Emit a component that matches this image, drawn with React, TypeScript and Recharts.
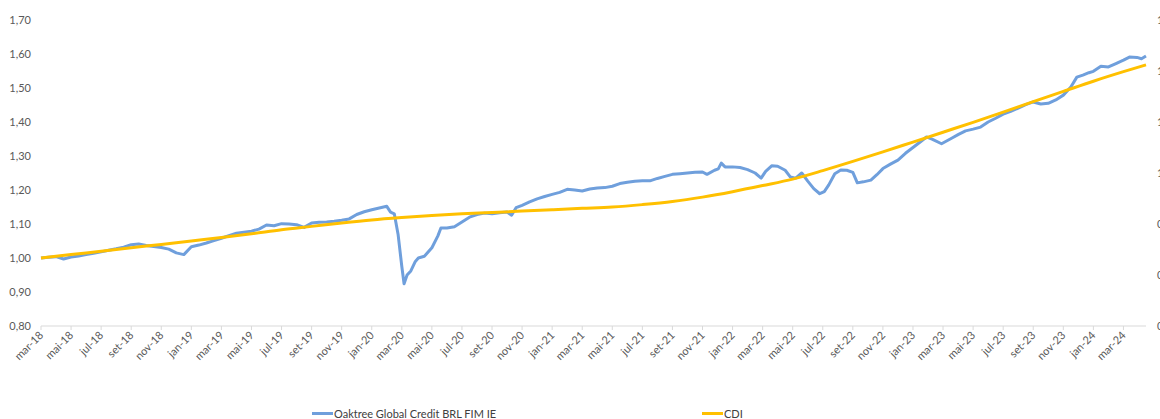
import React from 'react';
import { LineChart, Line, XAxis, YAxis } from 'recharts';

// month offsets from mar-18 (0 = mar-18), one label every two months
const MONTH_LABELS = [
  'mar-18', 'mai-18', 'jul-18', 'set-18', 'nov-18',
  'jan-19', 'mar-19', 'mai-19', 'jul-19', 'set-19', 'nov-19',
  'jan-20', 'mar-20', 'mai-20', 'jul-20', 'set-20', 'nov-20',
  'jan-21', 'mar-21', 'mai-21', 'jul-21', 'set-21', 'nov-21',
  'jan-22', 'mar-22', 'mai-22', 'jul-22', 'set-22', 'nov-22',
  'jan-23', 'mar-23', 'mai-23', 'jul-23', 'set-23', 'nov-23',
  'jan-24', 'mar-24',
];

const LEFT_TICKS = [0.8, 0.9, 1.0, 1.1, 1.2, 1.3, 1.4, 1.5, 1.6, 1.7];
const RIGHT_TICKS = [0.5, 0.7, 0.9, 1.1, 1.3, 1.5, 1.7];

// [month offset, value]
const FUND: [number, number][] = [
  [0, 1.0], [0.5, 1.002], [1, 1.004], [1.5, 0.997], [2, 1.003], [2.5, 1.006],
  [3, 1.01], [3.5, 1.014], [4, 1.018], [4.5, 1.023], [5, 1.027], [5.5, 1.032],
  [6, 1.039], [6.5, 1.041], [7, 1.037], [7.5, 1.034], [8, 1.031], [8.5, 1.026],
  [9, 1.015], [9.5, 1.01], [10, 1.033], [10.5, 1.038], [11, 1.044], [11.5, 1.051],
  [12, 1.058], [12.5, 1.066], [13, 1.073], [13.5, 1.076], [14, 1.079], [14.5, 1.085],
  [15, 1.097], [15.5, 1.095], [16, 1.101], [16.5, 1.1], [17, 1.098], [17.5, 1.09],
  [18, 1.103], [18.5, 1.105], [19, 1.106], [19.5, 1.108], [20, 1.111], [20.5, 1.115],
  [21, 1.128], [21.5, 1.136], [22, 1.142], [22.5, 1.147], [23, 1.152], [23.25, 1.135],
  [23.5, 1.13], [23.75, 1.07], [24, 0.975], [24.15, 0.924], [24.35, 0.95], [24.6, 0.962],
  [24.9, 0.99], [25.1, 1.0], [25.5, 1.005], [26, 1.03], [26.4, 1.065], [26.6, 1.088],
  [27, 1.088], [27.5, 1.092], [28, 1.106], [28.5, 1.12], [29, 1.128], [29.5, 1.132],
  [30, 1.13], [30.5, 1.133], [31, 1.135], [31.3, 1.126], [31.6, 1.148], [32, 1.155],
  [32.5, 1.165], [33, 1.174], [33.5, 1.181], [34, 1.187], [34.5, 1.193], [35, 1.202],
  [35.5, 1.2], [36, 1.197], [36.5, 1.203], [37, 1.206], [37.5, 1.207], [38, 1.211],
  [38.5, 1.219], [39, 1.223], [39.5, 1.226], [40, 1.227], [40.5, 1.227], [41, 1.234],
  [41.5, 1.24], [42, 1.246], [42.5, 1.248], [43, 1.25], [43.5, 1.252], [44, 1.253],
  [44.3, 1.246], [44.8, 1.258], [45.05, 1.262], [45.25, 1.279], [45.5, 1.268], [46, 1.268],
  [46.5, 1.266], [47, 1.26], [47.5, 1.25], [47.9, 1.235], [48.2, 1.255], [48.6, 1.271],
  [49, 1.27], [49.5, 1.258], [49.85, 1.238], [50.2, 1.235], [50.6, 1.25], [51, 1.226],
  [51.4, 1.204], [51.8, 1.189], [52.1, 1.195], [52.4, 1.215], [52.8, 1.248], [53.2, 1.259],
  [53.6, 1.258], [54, 1.252], [54.3, 1.221], [54.7, 1.224], [55.2, 1.229], [55.6, 1.245],
  [56, 1.263], [56.5, 1.276], [57, 1.288], [57.5, 1.308], [58, 1.325], [58.5, 1.342],
  [58.9, 1.356], [59.3, 1.349], [59.9, 1.336], [60.6, 1.353], [61, 1.363], [61.5, 1.374],
  [62, 1.379], [62.5, 1.385], [63, 1.4], [63.5, 1.411], [64, 1.423], [64.5, 1.431],
  [65, 1.441], [65.5, 1.451], [66, 1.459], [66.5, 1.453], [67, 1.455], [67.5, 1.465],
  [68, 1.479], [68.5, 1.503], [68.9, 1.532], [69.3, 1.538], [69.7, 1.545], [70, 1.549],
  [70.5, 1.564], [71, 1.562], [71.5, 1.572], [72, 1.582], [72.4, 1.591], [72.9, 1.59],
  [73.2, 1.586], [73.5, 1.594],
];

const CDI: [number, number][] = [
  [0, 1.0], [2, 1.01], [4, 1.02], [6, 1.03], [8, 1.04], [10, 1.05], [12, 1.06],
  [14, 1.071], [16, 1.083], [18, 1.093], [20, 1.103], [22, 1.112], [24, 1.119],
  [26, 1.125], [28, 1.13], [30, 1.134], [32, 1.138], [34, 1.142], [36, 1.146],
  [38, 1.15], [40, 1.157], [42, 1.166], [44, 1.179], [46, 1.195], [48, 1.213],
  [50, 1.232], [52, 1.257], [54, 1.284], [56, 1.312], [58, 1.341], [60, 1.37],
  [62, 1.399], [64, 1.429], [66, 1.46], [68, 1.49], [70, 1.52], [72, 1.548], [73.5, 1.568],
];

const fundData = FUND.map(([t, v]) => ({ t, fund: v }));
const cdiData = CDI.map(([t, v]) => ({ t, cdi: v }));
const xTicks = MONTH_LABELS.map((_, i) => i * 2);

const FUND_COLOR = '#6f9fdc';
const CDI_COLOR = '#ffc000';
const TEXT_COLOR = '#595959';
const FONT = 'Lato, "Open Sans", sans-serif';

const fmt = (v: number) => v.toFixed(2).replace('.', ',');

const MonthTick = (props: any) => {
  const { x, y, payload } = props;
  const label = MONTH_LABELS[Math.round(payload.value / 2)] ?? '';
  const px = x + 3;
  const py = y + 6;
  return (
    <text
      x={px}
      y={py}
      textAnchor="end"
      fontSize={11}
      fill={TEXT_COLOR}
      fontFamily={FONT}
      transform={`rotate(-45, ${px}, ${py})`}
    >
      {label}
    </text>
  );
};

const LeftTick = (props: any) => {
  const { x, y, payload } = props;
  return (
    <text x={x - 10} y={y} dy="0.35em" textAnchor="end" fontSize={11} fill={TEXT_COLOR} fontFamily={FONT}>
      {fmt(payload.value)}
    </text>
  );
};

const RightTick = (props: any) => {
  const { x, y, payload } = props;
  return (
    <text x={x + 11} y={y} dy="0.35em" textAnchor="start" fontSize={11} fill={TEXT_COLOR} fontFamily={FONT}>
      {fmt(payload.value)}
    </text>
  );
};

const LegendItem = ({ left, color, label }: { left: number; color: string; label: string }) => (
  <div style={{ position: 'absolute', left, top: 405, display: 'flex', alignItems: 'center', height: 16 }}>
    <span style={{ display: 'inline-block', width: 21, height: 3, background: color, marginRight: 1 }} />
    <span style={{ fontSize: 11, color: '#404040', fontFamily: FONT, whiteSpace: 'nowrap' }}>{label}</span>
  </div>
);

export default function App() {
  return (
    <div style={{ position: 'fixed', left: 0, top: 0, width: 1160, height: 419, overflow: 'hidden', background: '#fff' }}>
      <LineChart width={1200} height={419} margin={{ top: 20, right: 14, bottom: 33, left: 0 }}>
        <XAxis
          type="number"
          dataKey="t"
          domain={[0, 73.5]}
          ticks={xTicks}
          interval={0}
          tick={<MonthTick />}
          height={60}
          tickSize={4}
          tickMargin={0}
          stroke="#d9d9d9"
        />
        <YAxis
          yAxisId="left"
          domain={[0.8, 1.7]}
          ticks={LEFT_TICKS}
          interval={0}
          width={41}
          axisLine={false}
          tickLine={false}
          tickSize={0}
          tickMargin={0}
          tick={<LeftTick />}
        />
        <YAxis
          yAxisId="right"
          orientation="right"
          domain={[0.5, 1.7]}
          ticks={RIGHT_TICKS}
          interval={0}
          width={40}
          axisLine={false}
          tickLine={false}
          tickSize={0}
          tickMargin={0}
          includeHidden
          allowDataOverflow
          tick={<RightTick />}
        />
        <Line
          yAxisId="left"
          data={fundData}
          dataKey="fund"
          type="linear"
          stroke={FUND_COLOR}
          strokeWidth={3}
          strokeLinejoin="round"
          dot={false}
          isAnimationActive={false}
        />
        <Line
          yAxisId="left"
          data={cdiData}
          dataKey="cdi"
          type="monotone"
          stroke={CDI_COLOR}
          strokeWidth={3}
          dot={false}
          isAnimationActive={false}
        />
        <Line
          yAxisId="right"
          data={cdiData}
          dataKey="cdi"
          hide
          dot={false}
          legendType="none"
          isAnimationActive={false}
        />
      </LineChart>
      <LegendItem left={312} color={FUND_COLOR} label="Oaktree Global Credit BRL FIM IE" />
      <LegendItem left={702} color={CDI_COLOR} label="CDI" />
    </div>
  );
}
